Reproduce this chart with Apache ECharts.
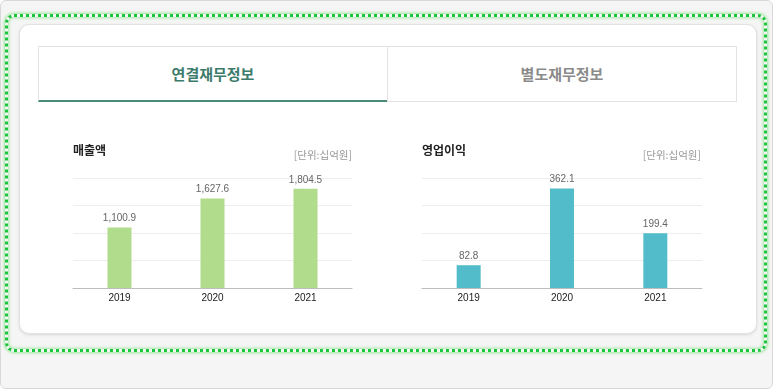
<!DOCTYPE html>
<html><head><meta charset="utf-8">
<script src="https://cdn.jsdelivr.net/npm/echarts@6/dist/echarts.min.js"></script>
<style>
html,body{margin:0;padding:0;width:773px;height:389px;overflow:hidden;background:#fff;font-family:"Noto Sans CJK KR",sans-serif;}
#outer{position:absolute;left:0;top:0;width:771px;height:387px;border:1px solid #d8d8d8;border-radius:6px;background:#f5f5f5;}
#dots{position:absolute;left:5px;top:14px;width:756px;height:332px;border:3px dotted #1fc43e;border-radius:9px;box-shadow:0 0 3px 1px rgba(90,220,90,0.6), inset 0 0 3px 1px rgba(90,220,90,0.5);}
#card{position:absolute;left:19px;top:24px;width:736px;height:308px;background:#fff;border:1px solid #e2e2e2;border-radius:10px;box-shadow:0 1px 3px rgba(0,0,0,0.12);}
.tab{position:absolute;top:46px;height:56px;border:1px solid #e3e3e3;background:#fff;text-align:center;line-height:54px;font-size:15px;font-weight:bold;box-sizing:border-box;}
#tab1{left:38px;width:350px;color:#3d7b6b;border-bottom:2px solid #4a8a78;}
#tab2{left:387px;width:350px;color:#8a8a8a;}
#chart{position:absolute;left:0;top:0;width:773px;height:389px;}
</style></head><body>
<div id="outer"></div>
<div id="dots"></div>
<div id="card"></div>
<div class="tab" id="tab1">연결재무정보</div>
<div class="tab" id="tab2">별도재무정보</div>
<div id="chart"></div>
<script>
var categories = ['2019', '2020', '2021'];
var salesValues = [1100.9, 1627.6, 1804.5];
var profitValues = [82.8, 362.1, 199.4];
var chartTitles = ['매출액', '영업이익'];
var unitLabel = '[단위:십억원]';

var chart = echarts.init(document.getElementById('chart'), null, {renderer: 'canvas'});
var numFont = '"Liberation Sans",sans-serif';
var krFont = '"Noto Sans CJK KR",sans-serif';
function fmt(v){ return v.toLocaleString('en-US', {minimumFractionDigits:1, maximumFractionDigits:1}); }
function xAxis(i){
  return {type:'category', gridIndex:i, data:categories,
    axisLine:{lineStyle:{color:'#bdbdbd', width:1}}, axisTick:{show:false},
    axisLabel:{color:'#222', fontSize:10, fontFamily:numFont, margin:5}};
}
function yAxis(i, max, interval){
  return {type:'value', gridIndex:i, min:0, max:max, interval:interval,
    axisLine:{show:false}, axisTick:{show:false}, axisLabel:{show:false},
    splitLine:{lineStyle:{color:'#eeeeee', width:1}}};
}
function series(i, data, color){
  return {type:'bar', xAxisIndex:i, yAxisIndex:i, data:data, barWidth:24,
    itemStyle:{color:color}, silent:true,
    label:{show:true, position:'top', distance:4, color:'#666', fontSize:10, fontFamily:numFont,
      formatter:function(p){return fmt(p.value);}}};
}
function title(text, pos, top, size, bold, color){
  var t = {text:text, top:top, padding:0, textStyle:{fontSize:size, fontWeight:bold?'bold':'normal', color:color, fontFamily:krFont}};
  for (var k in pos) t[k] = pos[k];
  return t;
}
chart.setOption({
  animation:false,
  title:[
    title(chartTitles[0], {left:73}, 144, 12, true, '#222'),
    title(unitLabel, {right:773-352}, 150, 10.5, false, '#999'),
    title(chartTitles[1], {left:422}, 144, 12, true, '#222'),
    title(unitLabel, {right:773-701}, 150, 10.5, false, '#999')
  ],
  grid:[
    {left:73, width:279, top:178, height:110},
    {left:422, width:280, top:178, height:110}
  ],
  xAxis:[xAxis(0), xAxis(1)],
  yAxis:[yAxis(0, 2000, 500), yAxis(1, 400, 100)],
  series:[series(0, salesValues, '#b1dc8b'), series(1, profitValues, '#52bcca')]
});
</script>
</body></html>
